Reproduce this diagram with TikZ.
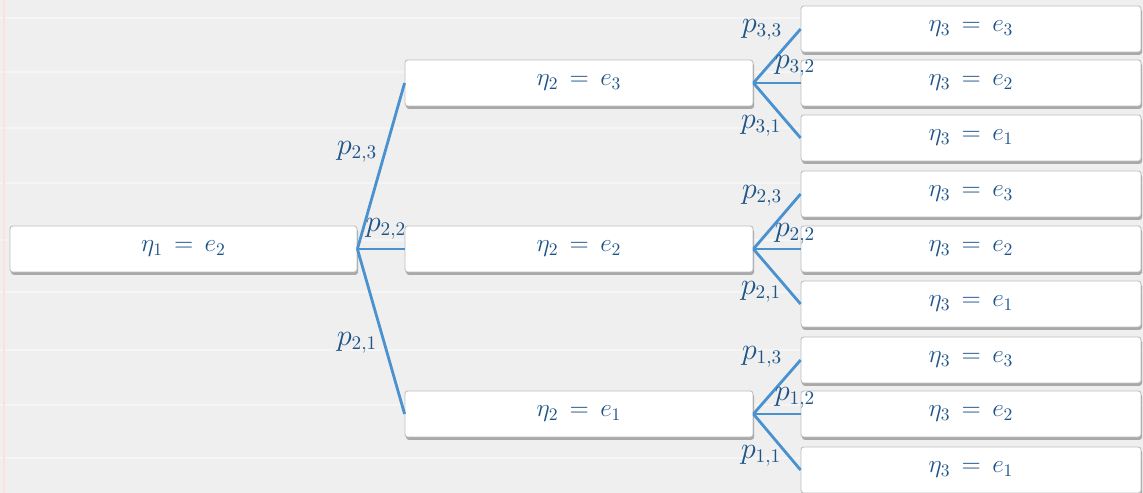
\documentclass[tikz,border=0pt]{standalone}
\usetikzlibrary{shadows}
\definecolor{bg}{RGB}{239,239,239}
\definecolor{linkblue}{RGB}{74,146,207}
\definecolor{txtblue}{RGB}{31,84,136}
\definecolor{boxedge}{RGB}{190,190,190}
\tikzset{
  statebox/.style={draw=boxedge, line width=0.5pt, fill=white, rounded corners=1.5pt,
    minimum height=0.92cm, inner sep=0pt, text=txtblue, font=\fontsize{14}{16}\selectfont,
    drop shadow={shadow xshift=0.6pt, shadow yshift=-1.6pt, fill=black!45, opacity=0.7}},
  rootbox/.style={statebox, minimum width=6.94cm},
  midbox/.style={statebox, minimum width=6.96cm},
  leafbox/.style={statebox, minimum width=6.8cm},
  link/.style={draw=linkblue, line width=1.6pt},
  plabel/.style={text=txtblue, inner sep=0pt, font=\fontsize{16}{18}\selectfont}
}
\begin{document}
\begin{tikzpicture}[x=0.02cm,y=-0.02cm]
\useasboundingbox (0,0) rectangle (1143,493);
\clip (0,0) rectangle (1143,493);
\fill[bg] (0,0) rectangle (1143,493);
\foreach \yy in {18,72,128,183,240,292,350,405,458}
  \draw[white!35!bg, line width=0.8pt] (0,\yy) -- (1143,\yy);
\draw[red!12, line width=0.6pt] (4,0) -- (4,493);

% root
\node[rootbox] (r) at (183.5,249) {$\eta_1\, =\, e_2$};
% level 2
\node[midbox] (a3) at (579,83) {$\eta_2\, =\, e_3$};
\node[midbox] (a2) at (579,249) {$\eta_2\, =\, e_2$};
\node[midbox] (a1) at (579,414) {$\eta_2\, =\, e_1$};
% level 3
\node[leafbox] (b33) at (971,29) {$\eta_3\, =\, e_3$};
\node[leafbox] (b32) at (971,83) {$\eta_3\, =\, e_2$};
\node[leafbox] (b31) at (971,138) {$\eta_3\, =\, e_1$};
\node[leafbox] (b23) at (971,194) {$\eta_3\, =\, e_3$};
\node[leafbox] (b22) at (971,249) {$\eta_3\, =\, e_2$};
\node[leafbox] (b21) at (971,304) {$\eta_3\, =\, e_1$};
\node[leafbox] (b13) at (971,360) {$\eta_3\, =\, e_3$};
\node[leafbox] (b12) at (971,414) {$\eta_3\, =\, e_2$};
\node[leafbox] (b11) at (971,470) {$\eta_3\, =\, e_1$};

% connectors
\draw[link] (r.east) -- (a3.west);
\draw[link] (r.east) -- (a2.west);
\draw[link] (r.east) -- (a1.west);
\foreach \p/\q in {a3/3, a2/2, a1/1} {
  \draw[link] (\p.east) -- (b\q3.west);
  \draw[link] (\p.east) -- (b\q2.west);
  \draw[link] (\p.east) -- (b\q1.west);
}

% labels
\node[plabel] (l23) at (357,152) {$p_{2,3}$};
\node[plabel] (l22) at (386,229) {$p_{2,2}$};
\node[plabel] (l21) at (357,343) {$p_{2,1}$};

\node[plabel] (m33) at (762,30) {$p_{3,3}$};
\node[plabel] (m32) at (795,66) {$p_{3,2}$};
\node[plabel] (m31) at (761,126) {$p_{3,1}$};
\node[plabel] (m23) at (762,196) {$p_{2,3}$};
\node[plabel] (m22) at (795,234) {$p_{2,2}$};
\node[plabel] (m21) at (761,292) {$p_{2,1}$};
\node[plabel] (m13) at (762,357) {$p_{1,3}$};
\node[plabel] (m12) at (795,398) {$p_{1,2}$};
\node[plabel] (m11) at (761,456) {$p_{1,1}$};
\end{tikzpicture}
\end{document}
